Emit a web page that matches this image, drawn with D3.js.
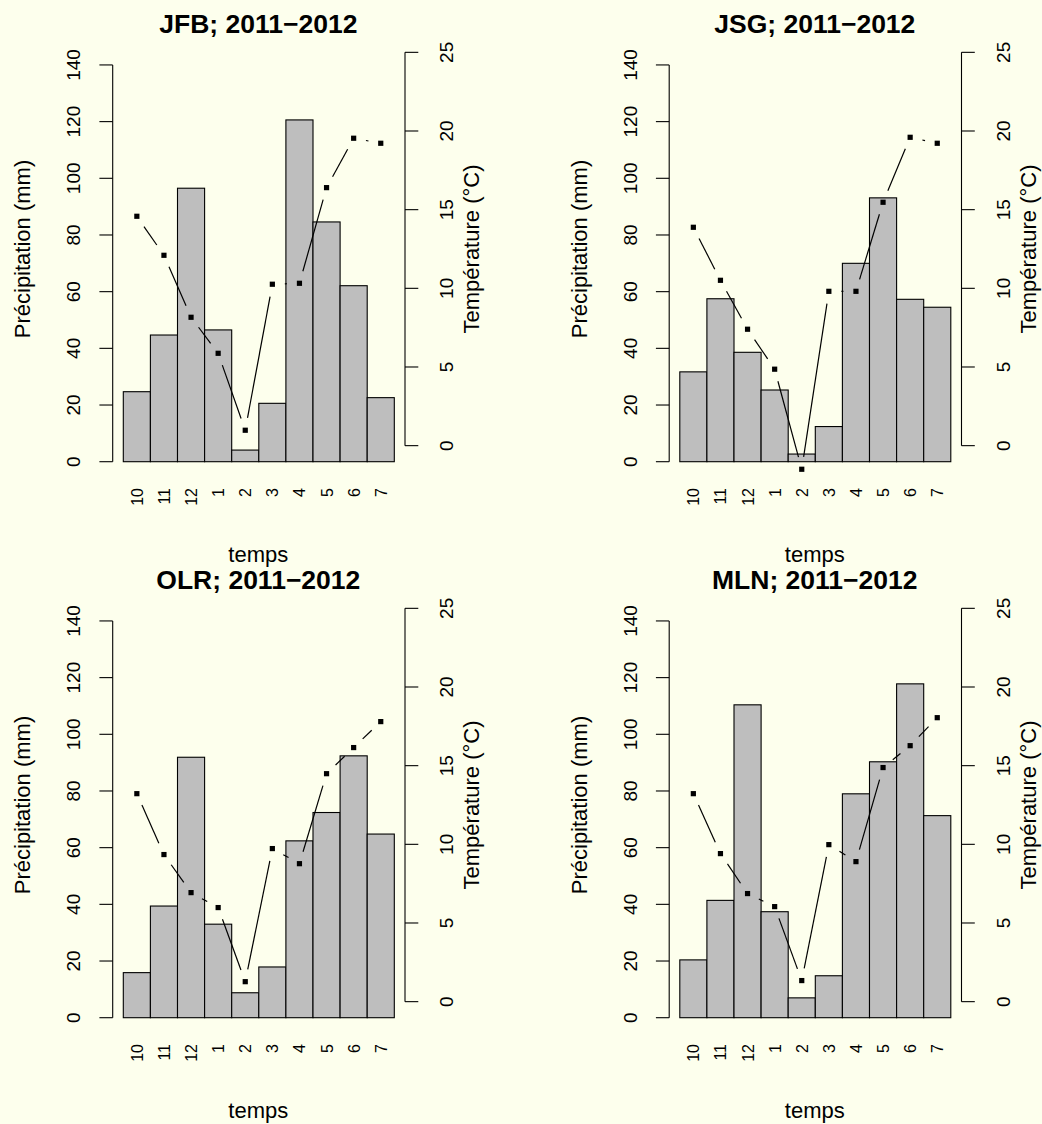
<!DOCTYPE html>
<html>
<head>
<meta charset="utf-8">
<script src="https://cdn.jsdelivr.net/npm/d3@7"></script>
<style>
  html, body { margin: 0; padding: 0; background: #FDFFED; }
  svg { display: block; }
  text { font-family: "Liberation Sans", Arial, Helvetica, sans-serif; fill: #000; }
</style>
</head>
<body>
<svg id="chart" width="1042" height="1124"></svg>
<script>
// ---- data ----
const months = ["10", "11", "12", "1", "2", "3", "4", "5", "6", "7"];
const stations = ["JFB", "JSG", "OLR", "MLN"];
const period = "2011\u22122012";

const precipJFB = [24.7, 44.7, 96.5, 46.5, 4.1, 20.6, 120.6, 84.6, 62.1, 22.6];
const precipJSG = [31.7, 57.5, 38.6, 25.3, 2.7, 12.4, 70.0, 93.1, 57.3, 54.5];
const precipOLR = [15.9, 39.4, 91.9, 33.0, 8.8, 17.9, 62.4, 72.4, 92.4, 64.8];
const precipMLN = [20.4, 41.4, 110.4, 37.4, 7.0, 14.8, 79.0, 90.3, 117.8, 71.3];

const tempJFB = [14.58, 12.1, 8.16, 5.87, 0.98, 10.26, 10.32, 16.4, 19.54, 19.22];
const tempJSG = [13.88, 10.51, 7.40, 4.86, -1.5, 9.81, 9.81, 15.47, 19.6, 19.22];
const tempOLR = [13.22, 9.35, 6.93, 5.98, 1.27, 9.73, 8.77, 14.49, 16.15, 17.80];
const tempMLN = [13.22, 9.41, 6.87, 6.04, 1.34, 9.98, 8.90, 14.88, 16.27, 18.05];

const precipTicks = [0, 20, 40, 60, 80, 100, 120, 140];
const tempTicks = [0, 5, 10, 15, 20, 25];

const precipData = [precipJFB, precipJSG, precipOLR, precipMLN];
const tempData = [tempJFB, tempJSG, tempOLR, tempMLN];

// ---- layout ----
const svg = d3.select("#chart");
svg.append("rect").attr("width", 1042).attr("height", 1124).attr("fill", "#FDFFED");

const colOff = 556.5, rowOff = 556;
const tickLen = 13.3;
const gap = 12.5;     // gap around points (type = "b")
const ptSize = 5.2;

stations.forEach((st, i) => {
  const ox = (i % 2) * colOff;
  const oy = Math.floor(i / 2) * rowOff;
  const g = svg.append("g").attr("transform", `translate(${ox},${oy})`);

  const x = d3.scaleBand().domain(months).range([123.3, 394.3]).padding(0);
  const yP = d3.scaleLinear().domain([0, 150]).range([461.7, 36.6]);
  const yT = d3.scaleLinear().domain([-1.02, 26.0]).range([461.7, 36.6]);

  const prec = precipData[i], temp = tempData[i];

  // bars
  g.selectAll("rect.bar").data(months).enter().append("rect")
    .attr("class", "bar")
    .attr("x", d => x(d))
    .attr("width", x.bandwidth())
    .attr("y", (d, j) => yP(prec[j]))
    .attr("height", (d, j) => yP(0) - yP(prec[j]))
    .attr("fill", "#BEBEBE")
    .attr("stroke", "#000")
    .attr("stroke-width", 1.1);

  // left axis
  const axL = g.append("g");
  axL.append("line").attr("x1", 112.7).attr("x2", 112.7)
    .attr("y1", yP(0)).attr("y2", yP(140)).attr("stroke", "#000").attr("stroke-width", 1.1);
  precipTicks.forEach(t => {
    axL.append("line").attr("x1", 112.7 - tickLen).attr("x2", 112.7)
      .attr("y1", yP(t)).attr("y2", yP(t)).attr("stroke", "#000").attr("stroke-width", 1.1);
    axL.append("text").attr("transform", `translate(80,${yP(t)}) rotate(-90)`)
      .attr("text-anchor", "middle").style("font-size", "19px").text(t);
  });

  // right axis
  const axR = g.append("g");
  axR.append("line").attr("x1", 405).attr("x2", 405)
    .attr("y1", yT(0)).attr("y2", yT(25)).attr("stroke", "#000").attr("stroke-width", 1.1);
  tempTicks.forEach(t => {
    axR.append("line").attr("x1", 405).attr("x2", 405 + tickLen)
      .attr("y1", yT(t)).attr("y2", yT(t)).attr("stroke", "#000").attr("stroke-width", 1.1);
    axR.append("text").attr("transform", `translate(453,${yT(t)}) rotate(-90)`)
      .attr("text-anchor", "middle").style("font-size", "19px").text(t);
  });

  // x tick labels
  months.forEach(m => {
    const cx = x(m) + x.bandwidth() / 2;
    g.append("text").attr("transform", `translate(${cx + 6},488) rotate(-90)`)
      .attr("text-anchor", "end").style("font-size", "16px").text(m);
  });

  // temperature: points + gapped segments (R type = "b")
  const pts = months.map((m, j) => [x(m) + x.bandwidth() / 2, yT(temp[j])]);
  for (let j = 0; j < pts.length - 1; j++) {
    const [x1, y1] = pts[j], [x2, y2] = pts[j + 1];
    const L = Math.hypot(x2 - x1, y2 - y1);
    if (L > 2 * gap) {
      const ux = (x2 - x1) / L, uy = (y2 - y1) / L;
      g.append("line")
        .attr("x1", x1 + ux * gap).attr("y1", y1 + uy * gap)
        .attr("x2", x2 - ux * gap).attr("y2", y2 - uy * gap)
        .attr("stroke", "#000").attr("stroke-width", 1.2);
    }
  }
  g.selectAll("rect.pt").data(pts).enter().append("rect")
    .attr("class", "pt")
    .attr("x", d => d[0] - ptSize / 2).attr("y", d => d[1] - ptSize / 2)
    .attr("width", ptSize).attr("height", ptSize).attr("fill", "#000");

  // titles and labels
  g.append("text").attr("x", 258.3).attr("y", 33.3).attr("text-anchor", "middle")
    .style("font-size", "26.5px").style("font-weight", "bold").text(`${st}; ${period}`);
  g.append("text").attr("x", 258.3).attr("y", 561.5).attr("text-anchor", "middle")
    .style("font-size", "22px").text("temps");
  g.append("text").attr("transform", "translate(30,249) rotate(-90)")
    .attr("text-anchor", "middle").style("font-size", "22px").text("Précipitation (mm)");
  g.append("text").attr("transform", "translate(479,249) rotate(-90)")
    .attr("text-anchor", "middle").style("font-size", "22px").text("Température (°C)");
});
</script>
</body>
</html>
